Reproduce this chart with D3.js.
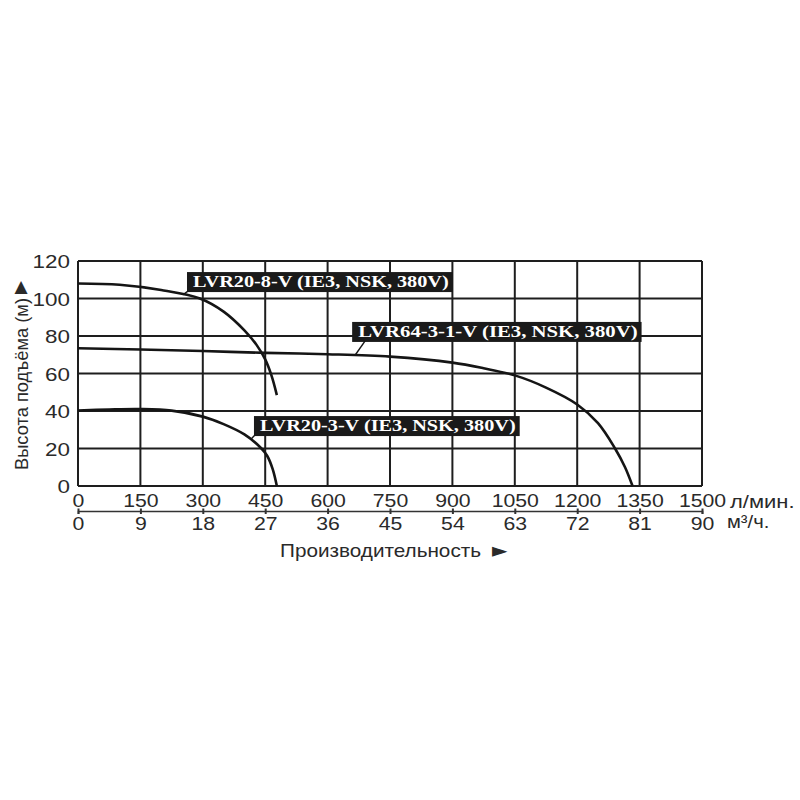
<!DOCTYPE html>
<html><head><meta charset="utf-8">
<script src="https://cdn.jsdelivr.net/npm/d3@7"></script>
<style>
html,body{margin:0;padding:0;background:#fff;}
svg{display:block;}
</style></head>
<body>
<svg id="chart" width="800" height="800"></svg>
<script>
// ---- data ----
const flowTicksLmin = [0,150,300,450,600,750,900,1050,1200,1350,1500];
const flowTicksM3h  = [0,9,18,27,36,45,54,63,72,81,90];
const headTicks     = [0,20,40,60,80,100,120];

const seriesNames = ["LVR20-8-V (IE3, NSK, 380V)", "LVR64-3-1-V (IE3, NSK, 380V)", "LVR20-3-V (IE3, NSK, 380V)"];

const lvr20_8_Q = [0, 100, 200, 293, 350, 400, 430, 450, 465, 478];
const lvr20_8_H = [108, 107.3, 104.5, 100, 93, 83, 75, 67.5, 59, 48.5];

const lvr64_Q = [0, 150, 300, 450, 600, 750, 900, 975, 1050, 1125, 1200, 1250, 1291, 1315, 1333];
const lvr64_H = [73.5, 72.8, 72, 71, 70.3, 69, 65.8, 62.8, 59, 52.5, 43.5, 33.5, 20, 10, 0];

const lvr20_3_Q = [0, 75, 150, 225, 300, 350, 400, 441, 455, 468, 478];
const lvr20_3_H = [40.3, 40.8, 41, 40.2, 37, 33, 27.5, 20, 16, 9, 0];

const yTitle = "Высота подъёма (м)";
const xTitle = "Производительность";
const arrowUp = "▲", arrowRight = "►";
const unitLmin = "л/мин.";
const unitM3h = "м³/ч.";

// ---- layout ----
const svg = d3.select("#chart");
const X0 = 78, X1 = 702, Y0 = 486, Y1 = 261;
const x = d3.scaleLinear().domain([0,1500]).range([X0,X1]);
const x2 = d3.scaleLinear().domain([0,90]).range([X0,X1]);
const y = d3.scaleLinear().domain([0,120]).range([Y0,Y1]);
const ink = "#1e1e1e";
const txt = "#2a2a2a";
const sans = "Liberation Sans, Arial, sans-serif";
const stretch = 1.18;

function widen(sel, f){
  sel.each(function(){
    const w = this.getComputedTextLength();
    d3.select(this).attr("textLength", w*(f||stretch)).attr("lengthAdjust","spacingAndGlyphs");
  });
}

// grid
const grid = svg.append("g");
grid.selectAll("line.v").data(flowTicksLmin).join("line").attr("class","v")
  .attr("x1", d=>x(d)).attr("x2", d=>x(d)).attr("y1", Y0).attr("y2", Y1)
  .attr("stroke", ink).attr("stroke-width", 2);
grid.selectAll("line.h").data(headTicks).join("line").attr("class","h")
  .attr("x1", X0).attr("x2", X1).attr("y1", d=>y(d)).attr("y2", d=>y(d))
  .attr("stroke", ink).attr("stroke-width", 2);

// y axis labels
const yAxis = svg.append("g").attr("transform", `translate(${X0-8},0)`)
  .call(d3.axisLeft(y).tickValues(headTicks).tickSize(0).tickPadding(0));
yAxis.select(".domain").remove();
yAxis.selectAll("text").attr("font-family",sans)
  .attr("font-size",19).attr("fill",txt).attr("dy","0.36em");
widen(yAxis.selectAll("text"));

// x axis 1 labels
const xAxis = svg.append("g").attr("transform", `translate(0,${Y0+4})`)
  .call(d3.axisBottom(x).tickValues(flowTicksLmin).tickSize(0).tickPadding(0).tickFormat(d3.format("d")));
xAxis.select(".domain").remove();
xAxis.selectAll("text").attr("font-family",sans)
  .attr("font-size",18).attr("fill",txt).attr("dy","0.95em");
widen(xAxis.selectAll("text"));

// x axis 2
const xAxis2 = svg.append("g").attr("transform", `translate(0,511)`)
  .call(d3.axisBottom(x2).tickValues(flowTicksM3h).tickSize(3).tickPadding(2));
xAxis2.select(".domain").attr("stroke", "#333").attr("stroke-width", 1.6);
xAxis2.selectAll(".tick line").attr("stroke","#333").attr("stroke-width",2).attr("y1",-2.5);
xAxis2.selectAll("text").attr("font-family",sans)
  .attr("font-size",18).attr("fill",txt).attr("dy","0.75em");
widen(xAxis2.selectAll("text"));

// units
const u1 = svg.append("text").attr("x",730).attr("y",508).text(unitLmin)
  .attr("font-family",sans).attr("font-size",18).attr("fill",txt);
const u2 = svg.append("text").attr("x",727).attr("y",528).text(unitM3h)
  .attr("font-family",sans).attr("font-size",18).attr("fill",txt);
widen(u1, 1.22); widen(u2, 1.12);

// titles
const xt = svg.append("text").attr("x",280).attr("y",557).text(xTitle)
  .attr("font-family",sans).attr("font-size",19).attr("fill",txt);
widen(xt, 1.09);
svg.append("text").attr("x",492).attr("y",557).text(arrowRight)
  .attr("font-family","DejaVu Sans, sans-serif").attr("font-size",20).attr("fill",txt);

svg.append("text").attr("transform","translate(28,470) rotate(-90)").attr("text-anchor","start")
  .text(yTitle).attr("font-family",sans).attr("font-size",19).attr("fill",txt)
  .attr("textLength",172).attr("lengthAdjust","spacingAndGlyphs");
svg.append("text").attr("x",21).attr("y",292).attr("text-anchor","middle").text(arrowUp)
  .attr("font-family","DejaVu Sans, sans-serif").attr("font-size",17).attr("fill",txt);

// curves
const series = [
  {name: seriesNames[0], Q: lvr20_8_Q, H: lvr20_8_H, anchorQ: 252, boxQ: 262, boxH: 114.1, tail: 1, f: 1.19},
  {name: seriesNames[1], Q: lvr64_Q, H: lvr64_H, anchorQ: 666, boxQ: 659, boxH: 87.5, tail: 13, f: 1.22},
  {name: seriesNames[2], Q: lvr20_3_Q, H: lvr20_3_H, anchorQ: 415, boxQ: 423, boxH: 37.3, tail: 1, f: 1.19}
];
const line = d3.line().x(d=>x(d[0])).y(d=>y(d[1])).curve(d3.curveCatmullRom.alpha(0.5));
series.forEach(s=>{
  svg.append("path").datum(s.Q.map((q,i)=>[q, s.H[i]]))
    .attr("d", line).attr("fill","none").attr("stroke", "#151515").attr("stroke-width", 2.6);
});

// labels
function headAt(s, q){
  const i = d3.bisectLeft(s.Q, q);
  if (i<=0) return s.H[0];
  const t = (q - s.Q[i-1])/(s.Q[i]-s.Q[i-1]);
  return s.H[i-1] + t*(s.H[i]-s.H[i-1]);
}
series.forEach(s=>{
  const g = svg.append("g");
  const bx = x(s.boxQ), by = y(s.boxH);
  const bh = 20;
  const rect = g.append("rect").attr("fill","#1a1a1a");
  const t = g.append("text").attr("x", bx+6).attr("y", by+15).text(s.name)
    .attr("font-family","Liberation Serif, Times New Roman, serif").attr("font-weight","bold")
    .attr("font-size",17).attr("fill","#fff");
  widen(t, s.f);
  const w = +t.attr("textLength");
  rect.attr("x", bx).attr("y", by).attr("width", w+10).attr("height", bh);
  const ay = y(headAt(s, s.anchorQ));
  svg.append("line").attr("x1", x(s.anchorQ)).attr("y1", ay).attr("x2", bx + s.tail).attr("y2", by+bh-1)
    .attr("stroke","#151515").attr("stroke-width",1.4);
});
</script>
</body></html>
